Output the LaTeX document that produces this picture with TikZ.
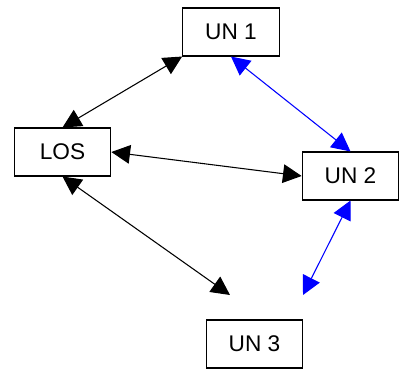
\documentclass[tikz,border=0pt]{standalone}
\usepackage{fontspec}
\setmainfont{Liberation Sans}
\usetikzlibrary{arrows.meta}

\tikzset{
	unit/.style={draw, line width=0.8pt, minimum width=72.5pt, minimum height=36pt, inner sep=0pt, font=\fontsize{17}{20}\selectfont},
	link/.style={draw, line width=0.8pt, <->},
	>={Triangle[length=14pt, width=14pt]}
}

\begin{document}
\begin{tikzpicture}[x=0.75pt, y=-0.75pt]
	\useasboundingbox (0,0) rectangle (400,369);

	\node[unit] (un1) at (231,32) {UN 1};
	\node[unit] (los) at (62.5,152) {LOS};
	\node[unit] (un2) at (350.5,176) {UN 2};
	\node[unit] (un3) at (254.5,344) {UN 3};
	\coordinate (un3l) at (230,295);
	\coordinate (un3r) at (303,295);

	\path [link] (los.north) -- (un1.south west);
	\path [link] (los.east) -- (un2.west);
	\path [link] (los.south) -- (un3l);
	\path [link, blue] (un1.south) -- (un2.north);
	\path [link, blue] (un2.south) -- (un3r);
\end{tikzpicture}
\end{document}
